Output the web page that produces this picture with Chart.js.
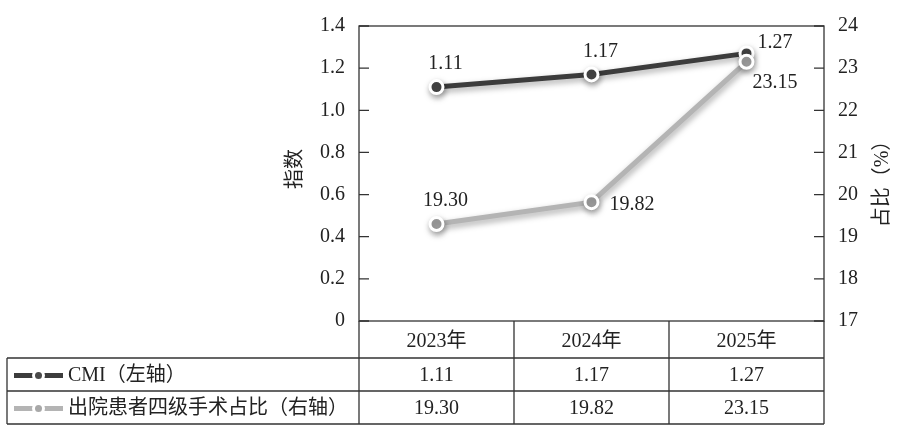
<!DOCTYPE html>
<html>
<head>
<meta charset="utf-8">
<script src="https://cdn.jsdelivr.net/npm/chart.js@4.4.1/dist/chart.umd.min.js"></script>
<style>
  html, body { margin: 0; padding: 0; background: #fff; }
  #wrap { width: 898px; height: 429px; }
</style>
</head>
<body>
<div id="wrap"><canvas id="chart" width="898" height="429"></canvas></div>
<script>
const years = ['2023年', '2024年', '2025年'];
const cmiValues = [1.11, 1.17, 1.27];
const level4Share = [19.30, 19.82, 23.15];
const seriesNames = ['CMI（左轴）', '出院患者四级手术占比（右轴）'];
const leftTitle = '指数';
const rightTitle = '占比（%）';

const FONT = "'Liberation Serif', 'Noto Sans CJK SC', serif";
const INK = '#222';
const DARK = '#3c3c3c';
const LIGHT = '#b4b4b4';

// where each value label sits relative to its point
const labelPlace = [
  ['above', 'above', 'right'],
  ['above', 'right', 'below']
];

const shadowPlugin = {
  id: 'shadow',
  beforeDatasetDraw(chart) {
    const ctx = chart.ctx;
    ctx.save();
    ctx.shadowColor = 'rgba(0,0,0,0.35)';
    ctx.shadowBlur = 6;
    ctx.shadowOffsetX = 1;
    ctx.shadowOffsetY = 3;
  },
  afterDatasetDraw(chart) {
    chart.ctx.restore();
  }
};

const valueLabels = {
  id: 'valueLabels',
  afterDatasetsDraw(chart) {
    const ctx = chart.ctx;
    ctx.save();
    ctx.font = `20px ${FONT}`;
    ctx.fillStyle = INK;
    chart.data.datasets.forEach((ds, di) => {
      const meta = chart.getDatasetMeta(di);
      meta.data.forEach((pt, i) => {
        const txt = ds.data[i].toFixed(2);
        const place = labelPlace[di][i];
        let x = pt.x, y = pt.y;
        ctx.textBaseline = 'middle';
        if (place === 'above') { ctx.textAlign = 'center'; x += 9; y -= 23; }
        if (place === 'right') {
          ctx.textAlign = 'left';
          if (di === 0) { x += 11; y -= 11; } else { x += 18; y += 3; }
        }
        if (place === 'below') { ctx.textAlign = 'left'; x += 6; y += 21; }
        ctx.fillText(txt, x, y);
      });
    });
    ctx.restore();
  }
};

const frameAndTable = {
  id: 'frameAndTable',
  afterDraw(chart) {
    const ctx = chart.ctx;
    const a = chart.chartArea;
    const xs = chart.scales.x;
    const yl = chart.scales.y;
    const yr = chart.scales.y1;
    const headH = 37, rowH = 33, tableLeft = 7;
    const r1 = a.bottom + headH, r2 = r1 + rowH, r3 = r2 + rowH;

    ctx.save();
    ctx.strokeStyle = '#333';
    ctx.lineWidth = 1.3;

    // plot frame
    ctx.strokeRect(a.left, a.top, a.right - a.left, a.bottom - a.top);

    // inward tick marks
    ctx.beginPath();
    yl.ticks.forEach(t => {
      const p = yl.getPixelForValue(t.value);
      ctx.moveTo(a.left, p); ctx.lineTo(a.left + 10, p);
    });
    yr.ticks.forEach(t => {
      const p = yr.getPixelForValue(t.value);
      ctx.moveTo(a.right - 10, p); ctx.lineTo(a.right, p);
    });
    ctx.stroke();

    // table grid
    ctx.beginPath();
    ctx.moveTo(a.left, a.bottom); ctx.lineTo(a.left, r3);
    ctx.moveTo(a.right, a.bottom); ctx.lineTo(a.right, r3);
    ctx.moveTo(tableLeft, r1); ctx.lineTo(tableLeft, r3);
    [r1, r2, r3].forEach(y => { ctx.moveTo(tableLeft, y); ctx.lineTo(a.right, y); });
    for (let i = 0; i < years.length - 1; i++) {
      const bx = (xs.getPixelForValue(i) + xs.getPixelForValue(i + 1)) / 2;
      ctx.moveTo(bx, a.bottom); ctx.lineTo(bx, r3);
    }
    ctx.stroke();

    // header + values
    ctx.fillStyle = INK;
    ctx.font = `20px ${FONT}`;
    ctx.textAlign = 'center';
    ctx.textBaseline = 'middle';
    const rowsY = [(r1 + r2) / 2 + 1, (r2 + r3) / 2 + 1];
    years.forEach((yr, i) => {
      const cx = xs.getPixelForValue(i);
      ctx.fillText(yr, cx, (a.bottom + r1) / 2 + 2);
      chart.data.datasets.forEach((ds, di) => {
        ctx.fillText(ds.data[i].toFixed(2), cx, rowsY[di]);
      });
    });

    // legend keys
    chart.data.datasets.forEach((ds, di) => {
      const cy = rowsY[di];
      ctx.strokeStyle = ds.borderColor;
      ctx.lineWidth = 5;
      ctx.beginPath(); ctx.moveTo(14, cy); ctx.lineTo(63, cy); ctx.stroke();
      ctx.fillStyle = '#fff';
      ctx.beginPath(); ctx.arc(38.5, cy, 6.5, 0, Math.PI * 2); ctx.fill();
      ctx.fillStyle = ds.pointBackgroundColor;
      ctx.beginPath(); ctx.arc(38.5, cy, 3.5, 0, Math.PI * 2); ctx.fill();
      ctx.fillStyle = INK;
      ctx.textAlign = 'left';
      ctx.fillText(seriesNames[di], 68, cy);
    });

    // axis titles, both reading bottom to top
    ctx.font = `20px ${FONT}`;
    ctx.textAlign = 'center';
    [[leftTitle, 296, 169], [rightTitle, 883, 179]].forEach(([t, x, y]) => {
      ctx.save();
      ctx.translate(x, y);
      ctx.rotate(-Math.PI / 2);
      ctx.fillText(t, 0, 0);
      ctx.restore();
    });
    ctx.restore();
  }
};

new Chart(document.getElementById('chart'), {
  type: 'line',
  data: {
    labels: years,
    datasets: [
      {
        label: seriesNames[0],
        data: cmiValues,
        yAxisID: 'y',
        borderColor: DARK,
        borderWidth: 5,
        pointRadius: 6.5,
        pointBorderWidth: 3,
        pointBorderColor: '#fff',
        pointBackgroundColor: '#4a4a4a',
        tension: 0,
        order: 1
      },
      {
        label: seriesNames[1],
        data: level4Share,
        yAxisID: 'y1',
        borderColor: LIGHT,
        borderWidth: 5,
        pointRadius: 6.5,
        pointBorderWidth: 3,
        pointBorderColor: '#fff',
        pointBackgroundColor: '#a8a8a8',
        tension: 0,
        order: 0
      }
    ]
  },
  options: {
    responsive: false,
    animation: false,
    devicePixelRatio: 1,
    layout: { padding: { top: 23, bottom: 108, left: 0, right: 0 } },
    plugins: {
      legend: { display: false },
      tooltip: { enabled: false }
    },
    scales: {
      x: { display: false, offset: true },
      y: {
        position: 'left',
        min: 0, max: 1.4,
        grid: { display: false, drawTicks: false },
        border: { display: false },
        ticks: {
          stepSize: 0.2,
          padding: 14,
          color: INK,
          font: { family: FONT, size: 20 },
          callback: v => v === 0 ? '0' : Number(v).toFixed(1)
        },
        afterFit: s => { s.width = 359; }
      },
      y1: {
        position: 'right',
        min: 17, max: 24,
        grid: { display: false, drawTicks: false },
        border: { display: false },
        ticks: {
          stepSize: 1,
          padding: 14,
          color: INK,
          font: { family: FONT, size: 20 }
        },
        afterFit: s => { s.width = 74; }
      }
    }
  },
  plugins: [shadowPlugin, valueLabels, frameAndTable]
});
</script>
</body>
</html>
